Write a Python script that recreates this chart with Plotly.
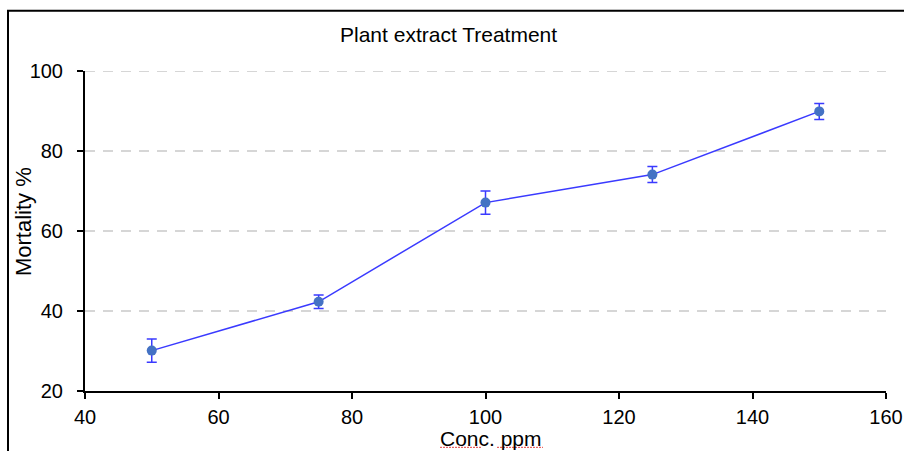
import plotly.graph_objects as go

conc = [50, 75, 100, 125, 150]
mortality = [30.1, 42.3, 67.1, 74.1, 89.9]
err = [2.9, 1.7, 2.9, 2.0, 2.0]

x_ticks = [40, 60, 80, 100, 120, 140, 160]
y_ticks = [20, 40, 60, 80, 100]

W, H = 904, 451
L, R, T, B = 85, 18, 70.5, 59.5
pw, ph = W - L - R, H - T - B

font = "Liberation Sans, Arial, sans-serif"

fig = go.Figure()
fig.add_trace(go.Scatter(
    x=conc, y=mortality, mode="lines+markers",
    line=dict(color="#3a3aff", width=1.5),
    marker=dict(color="#4472c4", size=10),
    error_y=dict(type="data", array=err, visible=True, color="#3a3aff", thickness=1.5, width=5),
    showlegend=False,
))

fig.update_layout(
    width=W, height=H,
    margin=dict(l=L, r=R, t=T, b=B, autoexpand=False),
    paper_bgcolor="white", plot_bgcolor="white",
    font=dict(family=font, color="black", size=20),
    xaxis=dict(range=[40, 160], tickvals=x_ticks, showgrid=False, zeroline=False,
               showline=True, linecolor="black", linewidth=2, automargin=False,
               ticks="outside", ticklen=6, tickwidth=1.5, tickcolor="black",
               ticklabelstandoff=1, tickfont=dict(size=20)),
    yaxis=dict(range=[20, 100], tickvals=y_ticks, showgrid=True, gridcolor="#d6d6d6",
               griddash="10px,8px", gridwidth=2, zeroline=False, automargin=False,
               showline=True, linecolor="black", linewidth=2,
               ticks="outside", ticklen=6, tickwidth=1.5, tickcolor="black",
               ticklabelstandoff=10, tickfont=dict(size=20)),
)

# Gridline at the top tick (plotly hides gridlines lying on the plot edge)
fig.add_shape(type="line", xref="paper", yref="y", x0=0, x1=1,
              y0=y_ticks[-1], y1=y_ticks[-1],
              line=dict(color="#d6d6d6", width=2, dash="10px,8px"), layer="below")

# Title and axis titles
def px_x(v):
    return (v - L) / pw

def px_y(v):
    return 1 - (v - T) / ph

fig.add_annotation(text="Plant extract Treatment", xref="paper", yref="paper",
                   x=px_x(448), y=px_y(34), showarrow=False,
                   font=dict(size=21), xanchor="center", yanchor="middle")
fig.add_annotation(text="Conc. ppm", xref="paper", yref="paper",
                   x=px_x(491), y=px_y(439), showarrow=False,
                   font=dict(size=21), xanchor="center", yanchor="middle")
fig.add_annotation(text="Mortality %", xref="paper", yref="paper",
                   x=px_x(23), y=px_y(222), showarrow=False, textangle=-90,
                   font=dict(size=22), xanchor="center", yanchor="middle")

# Spell-check style red squiggle under axis title words
for x0, x1 in [(440, 481), (497, 543)]:
    fig.add_shape(type="line", xref="paper", yref="paper",
                  x0=px_x(x0), x1=px_x(x1), y0=px_y(448), y1=px_y(448),
                  line=dict(color="#e04040", width=1, dash="2px,1px"))

# Outer frame (top and left border visible)
fig.add_shape(type="rect", xref="paper", yref="paper",
              x0=px_x(8), x1=px_x(W + 10),
              y0=px_y(H + 10), y1=px_y(10),
              line=dict(color="black", width=2), layer="below")

fig.write_html("out.html")
